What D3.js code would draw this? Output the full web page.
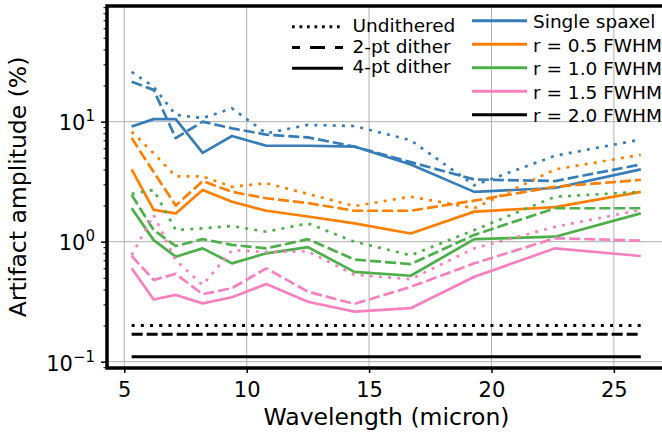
<!DOCTYPE html>
<html><head><meta charset="utf-8">
<script src="https://cdn.jsdelivr.net/npm/d3@7"></script>
<style>body{margin:0;background:#fff} svg{display:block} text{font-family:"DejaVu Sans",sans-serif;fill:#000}</style>
</head><body><svg id="c" width="662" height="433"></svg>
<script>
// ---- data ----
const wavelengths = [5.3, 6.2, 7.1, 8.2, 9.4, 10.8, 12.5, 14.4, 16.7, 19.3, 22.6, 26.1];

const singleUndithered = [26, 19.5, 11.4, 10.7, 12.9, 8.0, 9.4, 9.2, 7.0, 2.95, 5.2, 7.1];
const single2pt        = [21.5, 18.4, 7.3, 10.0, 8.8, 7.8, 7.4, 6.2, 4.6, 3.3, 3.2, 4.4];
const single4pt        = [9.1, 10.5, 10.5, 5.5, 7.6, 6.3, 6.3, 6.2, 4.4, 2.6, 2.8, 4.0];

const r05Undithered = [8.25, 5.45, 3.5, 3.5, 2.87, 3.07, 2.5, 1.98, 2.37, 1.9, 4.0, 5.3];
const r052pt        = [7.3, 3.8, 2.0, 3.2, 2.6, 2.3, 2.1, 1.81, 1.81, 2.2, 2.87, 3.27];
const r054pt        = [4.0, 1.84, 1.72, 2.7, 2.15, 1.81, 1.62, 1.42, 1.17, 1.78, 1.94, 2.6];

const r10Undithered = [2.5, 2.7, 1.25, 1.29, 1.35, 1.21, 1.42, 1.0, 0.77, 1.25, 2.37, 2.6];
const r102pt        = [2.45, 1.25, 0.92, 1.05, 0.94, 0.88, 1.05, 0.71, 0.65, 1.14, 1.9, 1.9];
const r104pt        = [1.9, 1.03, 0.75, 0.88, 0.66, 0.80, 0.90, 0.56, 0.52, 1.05, 1.1, 1.72];

const r15Undithered = [0.77, 1.67, 0.7, 0.435, 0.85, 0.82, 0.83, 0.53, 0.486, 0.88, 1.33, 1.84];
const r152pt        = [0.76, 0.48, 0.54, 0.365, 0.41, 0.6, 0.383, 0.303, 0.42, 0.66, 1.07, 1.02];
const r154pt        = [0.6, 0.33, 0.36, 0.306, 0.344, 0.444, 0.316, 0.261, 0.279, 0.51, 0.88, 0.76];

const r20Undithered = [0.2, 0.2, 0.2, 0.2, 0.2, 0.2, 0.2, 0.2, 0.2, 0.2, 0.2, 0.2];
const r202pt        = [0.169, 0.169, 0.169, 0.169, 0.169, 0.169, 0.169, 0.169, 0.169, 0.169, 0.169, 0.169];
const r204pt        = [0.11, 0.11, 0.11, 0.11, 0.11, 0.11, 0.11, 0.11, 0.11, 0.11, 0.11, 0.11];

const apertureNames = ["Single spaxel", "r = 0.5 FWHM", "r = 1.0 FWHM", "r = 1.5 FWHM", "r = 2.0 FWHM"];
const ditherNames = ["Undithered", "2-pt dither", "4-pt dither"];
const colors = ["#377eb8", "#ff7f00", "#4daf4a", "#f781bf", "#000000"];
const xTicks = [5, 10, 15, 20, 25];
const yTicks = [0.1, 1, 10];
const yTickExponents = ["\u22121", "0", "1"];
const xLabel = "Wavelength (micron)";
const yLabel = "Artifact amplitude (%)";

const seriesTable = [
  [singleUndithered, single2pt, single4pt],
  [r05Undithered, r052pt, r054pt],
  [r10Undithered, r102pt, r104pt],
  [r15Undithered, r152pt, r154pt],
  [r20Undithered, r202pt, r204pt]
];

// ---- styles ----
const dashData = ["3,6.2", "11,4", null];
const dashLegend = ["2.7,4.8", "15,10", null];
const L = 107, R = 666, T = 6, B = 368;

const svg = d3.select("#c");
const x = d3.scaleLinear().domain([4.293, 27.13]).range([L, R]);
const y = d3.scaleLog().domain([0.0886, 92]).range([B, T]);

// grid
const grid = svg.append("g").attr("stroke", "#b0b0b0").attr("stroke-width", 1);
xTicks.forEach(t => grid.append("line").attr("x1", x(t)).attr("x2", x(t)).attr("y1", T).attr("y2", B));
yTicks.forEach(t => grid.append("line").attr("x1", L).attr("x2", R).attr("y1", y(t)).attr("y2", y(t)));

// clip
svg.append("clipPath").attr("id", "plotclip").append("rect")
  .attr("x", L).attr("y", T).attr("width", R - L).attr("height", B - T);

const line = d3.line().x((d, i) => x(wavelengths[i])).y(d => y(d));
const dataG = svg.append("g").attr("clip-path", "url(#plotclip)");
seriesTable.forEach((group, ci) => {
  group.forEach((vals, si) => {
    dataG.append("path").attr("d", line(vals))
      .attr("fill", "none").attr("stroke", colors[ci])
      .attr("stroke-width", ci === 4 ? 3 : 2.7)
      .attr("stroke-dasharray", dashData[si])
      .attr("stroke-linejoin", "round");
  });
});

// axes
const xAxis = svg.append("g").attr("transform", `translate(0,${B})`)
  .call(d3.axisBottom(x).tickValues(xTicks).tickSize(5).tickPadding(0));
xAxis.select(".domain").remove();
xAxis.selectAll(".tick line").attr("stroke-width", 1.5);
xAxis.selectAll(".tick text").attr("y", 29).attr("dy", 0)
  .style("font-family", "DejaVu Sans").style("font-size", "21px");

const minorVals = y.ticks().filter(v => yTicks.indexOf(v) < 0);
const yMinor = svg.append("g").attr("transform", `translate(${L},0)`)
  .call(d3.axisLeft(y).tickValues(minorVals).tickSize(3.5).tickFormat(""));
yMinor.select(".domain").remove();
yMinor.selectAll(".tick line").attr("stroke-width", 1);

const yAxis = svg.append("g").attr("transform", `translate(${L},0)`)
  .call(d3.axisLeft(y).tickValues(yTicks).tickSize(6).tickFormat(""));
yAxis.select(".domain").remove();
yAxis.selectAll(".tick line").attr("stroke-width", 1.5);
yAxis.selectAll(".tick").each(function(d, i) {
  const t = d3.select(this).append("text").attr("x", -12).attr("y", 8.3)
    .attr("text-anchor", "end").style("font-size", "21px");
  t.append("tspan").text("10");
  t.append("tspan").attr("dy", -9).style("font-size", "15px").text(yTickExponents[i]);
});

// spines
svg.append("rect").attr("x", L).attr("y", T).attr("width", R - L).attr("height", B - T)
  .attr("fill", "none").attr("stroke", "#000").attr("stroke-width", 3.5);

// labels
svg.append("text").attr("x", 386.5).attr("y", 425).attr("text-anchor", "middle")
  .style("font-size", "23.5px").text(xLabel);
svg.append("text").attr("transform", "translate(26,187) rotate(-90)").attr("text-anchor", "middle")
  .style("font-size", "23.5px").text(yLabel);

// legend 1 (line styles)
ditherNames.forEach((n, i) => {
  svg.append("line").attr("x1", 292).attr("x2", 343)
    .attr("y1", 26.7 + i * 20.8).attr("y2", 26.7 + i * 20.8)
    .attr("stroke", "#000").attr("stroke-width", 3)
    .attr("stroke-dasharray", dashLegend[i]).attr("stroke-dashoffset", i === 1 ? 7 : 0);
  svg.append("text").attr("x", 352.5).attr("y", 31.7 + i * 20.8)
    .style("font-size", "18.5px").text(n);
});
// legend 2 (apertures)
apertureNames.forEach((n, i) => {
  svg.append("line").attr("x1", 472).attr("x2", 527)
    .attr("y1", 20.8 + i * 23.5).attr("y2", 20.8 + i * 23.5)
    .attr("stroke", colors[i]).attr("stroke-width", 3);
  svg.append("text").attr("x", 533).attr("y", 28.3 + i * 23.5)
    .style("font-size", "18.5px").text(n);
});
</script></body></html>
